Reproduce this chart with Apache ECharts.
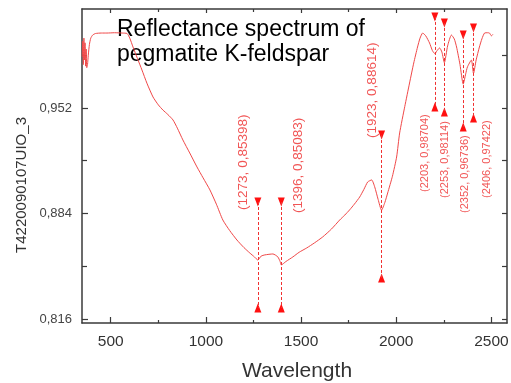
<!DOCTYPE html>
<html>
<head>
<meta charset="utf-8">
<script src="https://cdn.jsdelivr.net/npm/echarts@6/dist/echarts.min.js"></script>
<style>
html, body { margin: 0; padding: 0; background: #fff; }
#chart { width: 511px; height: 383px; }
</style>
</head>
<body>
<div id="chart"></div>
<script>
// spectrum
var wavelength = [350, 353, 356, 359, 362, 365, 368, 371, 374, 378, 382, 388, 395, 405, 420, 450, 480, 520, 560, 586,
  600, 617, 640, 664, 690, 722, 750, 774, 800, 827, 850, 879, 915, 953, 985, 1021, 1055, 1089, 1125, 1163,
  1200, 1231, 1255, 1273, 1290, 1310, 1352, 1378, 1390, 1396, 1420, 1457, 1490, 1530, 1570, 1614, 1660, 1703, 1730, 1755,
  1780, 1808, 1830, 1850, 1871, 1887, 1905, 1923, 1940, 1955, 1980, 2002, 2018, 2045, 2070, 2092, 2112, 2125, 2139, 2155,
  2175, 2190, 2203, 2215, 2228, 2240, 2253, 2270, 2290, 2305, 2317, 2335, 2352, 2365, 2374, 2395, 2406, 2420, 2437, 2450,
  2464, 2480, 2490, 2500, 2508];
var reflectance = [0.985, 0.995, 0.980, 0.997, 0.983, 0.994, 0.979, 0.990, 0.978, 0.980, 0.986, 0.993, 0.997, 0.999, 1.000, 1.0003, 1.0003, 1.0005, 1.0003, 1.000,
  0.997, 0.9913, 0.984, 0.9765, 0.968, 0.9591, 0.954, 0.9507, 0.9478, 0.9443, 0.939, 0.9314, 0.923, 0.914, 0.907, 0.8992, 0.890, 0.8798, 0.873, 0.8669,
  0.862, 0.8585, 0.856, 0.85398, 0.8565, 0.8573, 0.8579, 0.856, 0.853, 0.85083, 0.853, 0.856, 0.859, 0.8618, 0.865, 0.8689, 0.874, 0.8798, 0.883, 0.8863,
  0.890, 0.8946, 0.8995, 0.9043, 0.9056, 0.9011, 0.893, 0.88614, 0.891, 0.8972, 0.908, 0.9204, 0.9359, 0.953, 0.9681, 0.981, 0.9913, 0.997, 1.0003, 0.9985,
  0.9939, 0.989, 0.98704, 0.989, 0.9907, 0.988, 0.98114, 0.992, 0.999, 0.9965, 0.9913, 0.980, 0.96736, 0.974, 0.9784, 0.9829, 0.97422, 0.983, 0.9913, 0.9965,
  1.0003, 1.0005, 1.0003, 0.9985, 0.9995];

// marked absorption features
var peakX = [1273, 1396, 1923, 2203, 2253, 2352, 2406];
var peakY = [0.85398, 0.85083, 0.88614, 0.98704, 0.98114, 0.96736, 0.97422];

// where the dashed marker lines start / stop and where the labels sit
var markTop = [0.8914, 0.8914, 0.9346, 1.0107, 1.0068, 0.9990, 1.0036];
var markBottom = [0.8231, 0.8231, 0.8424, 0.9526, 0.9494, 0.9398, 0.9456];
var labelX = [1194, 1483, 1876, 2149, 2254, 2359, 2479];
var labelY = [0.8863, 0.8843, 0.9327, 0.8979, 0.8940, 0.8843, 0.8940];

var xMajor = [500, 1000, 1500, 2000, 2500];
var xMinor = [750, 1250, 1750, 2250];
var yMajor = [0.816, 0.884, 0.952];
var yMinor = [0.850, 0.918, 0.986];

var X_MIN = 349, X_MAX = 2582, Y_MIN = 0.8134, Y_MAX = 1.0158;
var red = '#f04848';
var axisColor = '#3a3a3a';

function comma(v, n) {
  return v.toFixed(n).replace('.', ',');
}

function xAxisOf(pos, ticks, len, withLine, withLabel) {
  return {
    type: 'value', position: pos, min: X_MIN, max: X_MAX, splitLine: { show: false },
    axisLine: { show: withLine, lineStyle: { color: axisColor, width: 1.5 } },
    axisTick: { show: true, inside: true, length: len, customValues: ticks, lineStyle: { color: axisColor, width: 1.2 } },
    axisLabel: {
      show: withLabel, customValues: ticks, margin: 11, color: '#333', fontSize: 15.5, fontFamily: 'Liberation Sans',
      formatter: function (v) { return String(v); }
    }
  };
}

function yAxisOf(pos, ticks, len, withLine, withLabel) {
  return {
    type: 'value', position: pos, min: Y_MIN, max: Y_MAX, splitLine: { show: false },
    axisLine: { show: withLine, lineStyle: { color: axisColor, width: 1.5 } },
    axisTick: { show: true, inside: true, length: len, customValues: ticks, lineStyle: { color: axisColor, width: 1.2 } },
    axisLabel: {
      show: withLabel, customValues: ticks, margin: 10, color: '#444', fontSize: 13, fontFamily: 'Liberation Sans',
      formatter: function (v) { return comma(v, 3); }
    }
  };
}

var chart = echarts.init(document.getElementById('chart'));

var lineData = wavelength.map(function (w, i) { return [w, reflectance[i]]; });

var option = {
  animation: false,
  backgroundColor: '#fff',
  grid: { left: 82, right: 4, top: 9, bottom: 60, outerBoundsMode: 'none' },
  xAxis: [
    xAxisOf('bottom', xMajor, 6, true, true),
    xAxisOf('bottom', xMinor, 3, false, false),
    xAxisOf('top', xMajor, 4, true, false),
    xAxisOf('top', xMinor, 3, false, false)
  ],
  yAxis: [
    yAxisOf('left', yMajor, 6, true, true),
    yAxisOf('left', yMinor, 5, false, false),
    yAxisOf('right', yMajor, 5, true, false),
    yAxisOf('right', yMinor, 5, false, false)
  ],
  graphic: [
    {
      type: 'text', x: 117, y: 17,
      style: {
        text: 'Reflectance spectrum of\npegmatite K-feldspar',
        font: '23px "Liberation Sans"', lineHeight: 25, fill: '#000', textVerticalAlign: 'top'
      }
    },
    {
      type: 'text', x: 22, y: 185, rotation: Math.PI / 2,
      style: {
        text: 'T4220090107UIO_3', font: '15px "Liberation Sans"', fill: '#333',
        textAlign: 'center', textVerticalAlign: 'middle'
      }
    },
    {
      type: 'text', x: 297, y: 371,
      style: {
        text: 'Wavelength', font: '21px "Liberation Sans"', fill: '#333',
        textAlign: 'center', textVerticalAlign: 'middle'
      }
    }
  ],
  series: [
    {
      name: 'spectrum', type: 'line', data: lineData, showSymbol: false, smooth: 0.2,
      lineStyle: { color: red, width: 1 },
      markLine: {
        silent: true, symbol: ['none', 'none'], label: { show: false },
        lineStyle: { color: '#f03030', type: [3, 2], width: 1 },
        data: peakX.map(function (x, i) {
          return [{ coord: [x, markTop[i]] }, { coord: [x, markBottom[i]] }];
        })
      }
    },
    {
      name: 'top', type: 'scatter', symbol: 'triangle', symbolRotate: 180, symbolSize: [7, 9],
      itemStyle: { color: '#ff1010', opacity: 1 }, silent: true,
      data: peakX.map(function (x, i) { return [x, markTop[i]]; })
    },
    {
      name: 'bottom', type: 'scatter', symbol: 'triangle', symbolSize: [7, 9],
      itemStyle: { color: '#ff1010', opacity: 1 }, silent: true,
      data: peakX.map(function (x, i) { return [x, markBottom[i]]; })
    },
    {
      name: 'labels', type: 'scatter', symbolSize: 1, silent: true,
      itemStyle: { color: 'rgba(0,0,0,0)' },
      label: {
        show: true, position: 'inside', rotate: 90, align: 'left', verticalAlign: 'middle',
        color: '#ee2b2b', fontFamily: 'Liberation Sans'
      },
      data: peakX.map(function (x, i) {
        return {
          value: [labelX[i], labelY[i]],
          label: {
            fontSize: i < 3 ? 13.5 : 11,
            formatter: '(' + x + ', ' + comma(peakY[i], 5) + ')'
          }
        };
      })
    }
  ]
};

chart.setOption(option);
</script>
</body>
</html>
